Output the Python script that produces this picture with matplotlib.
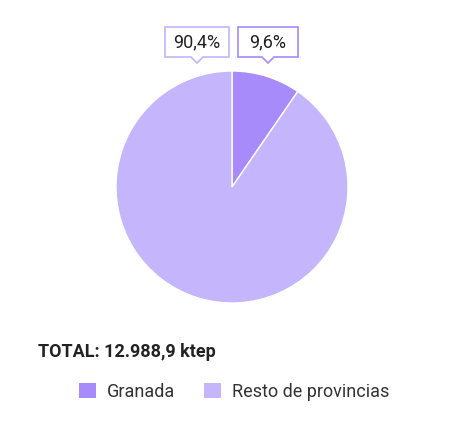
import matplotlib
matplotlib.use("Agg")
from matplotlib import pyplot as plt
from matplotlib.patches import Polygon

labels = ["Granada", "Resto de provincias"]
values = [9.6, 90.4]
value_labels = ["9,6%", "90,4%"]
colors = ["#a78bfa", "#c4b5fd"]
total_text = "TOTAL: 12.988,9 ktep"

W, H = 468, 423
plt.rcParams['font.family'] = ['Roboto', 'DejaVu Sans']


def fx(x):
    return x / W


def fy(y):
    return 1 - y / H


def callout(fig, cx, top, width, height, text, color):
    # box with a small pointer under it, pixel coords from top-left
    left, right = cx - width / 2, cx + width / 2
    bottom = top + height
    pts = [(left, top), (right, top), (right, bottom), (cx + 6, bottom),
           (cx, bottom + 6), (cx - 6, bottom), (left, bottom)]
    poly = Polygon([(fx(a), fy(b)) for a, b in pts], closed=True,
                   transform=fig.transFigure, facecolor="white",
                   edgecolor=color, linewidth=1.2)
    fig.patches.append(poly)
    fig.text(fx(cx), fy(top + height / 2), text, ha="center", va="center",
             fontsize=13, color="#222222")


def main():
    fig = plt.figure(figsize=(W / 100, H / 100), dpi=100)
    r = 116
    cx, cy = 232, 187
    ax = fig.add_axes([fx(cx - r), fy(cy + r), 2 * r / W, 2 * r / H])
    wedges, _ = ax.pie(values, colors=colors, startangle=90, counterclock=False,
                       radius=1, wedgeprops=dict(edgecolor="white", linewidth=1))
    ax.set_xlim(-1, 1)
    ax.set_ylim(-1, 1)
    ax.set_aspect("equal")
    ax.axis("off")

    callout(fig, 197, 27, 64, 30, value_labels[1], colors[1])
    callout(fig, 268, 27, 60, 30, value_labels[0], colors[0])

    fig.text(fx(38), fy(352), total_text, ha="left", va="center",
             fontsize=13, fontweight="bold", color="#222222")

    leg = fig.legend(wedges, labels, loc="center left",
                     bbox_to_anchor=(fx(63), fy(392)), ncol=2, frameon=False,
                     fontsize=13, handlelength=0.9, handleheight=0.9,
                     handletextpad=0.65, columnspacing=1.6)
    for t in leg.get_texts():
        t.set_color("#333333")
    for h in leg.legend_handles:
        h.set_edgecolor("none")

    fig.savefig("out.png", dpi=100)


if __name__ == '__main__':
    main()
